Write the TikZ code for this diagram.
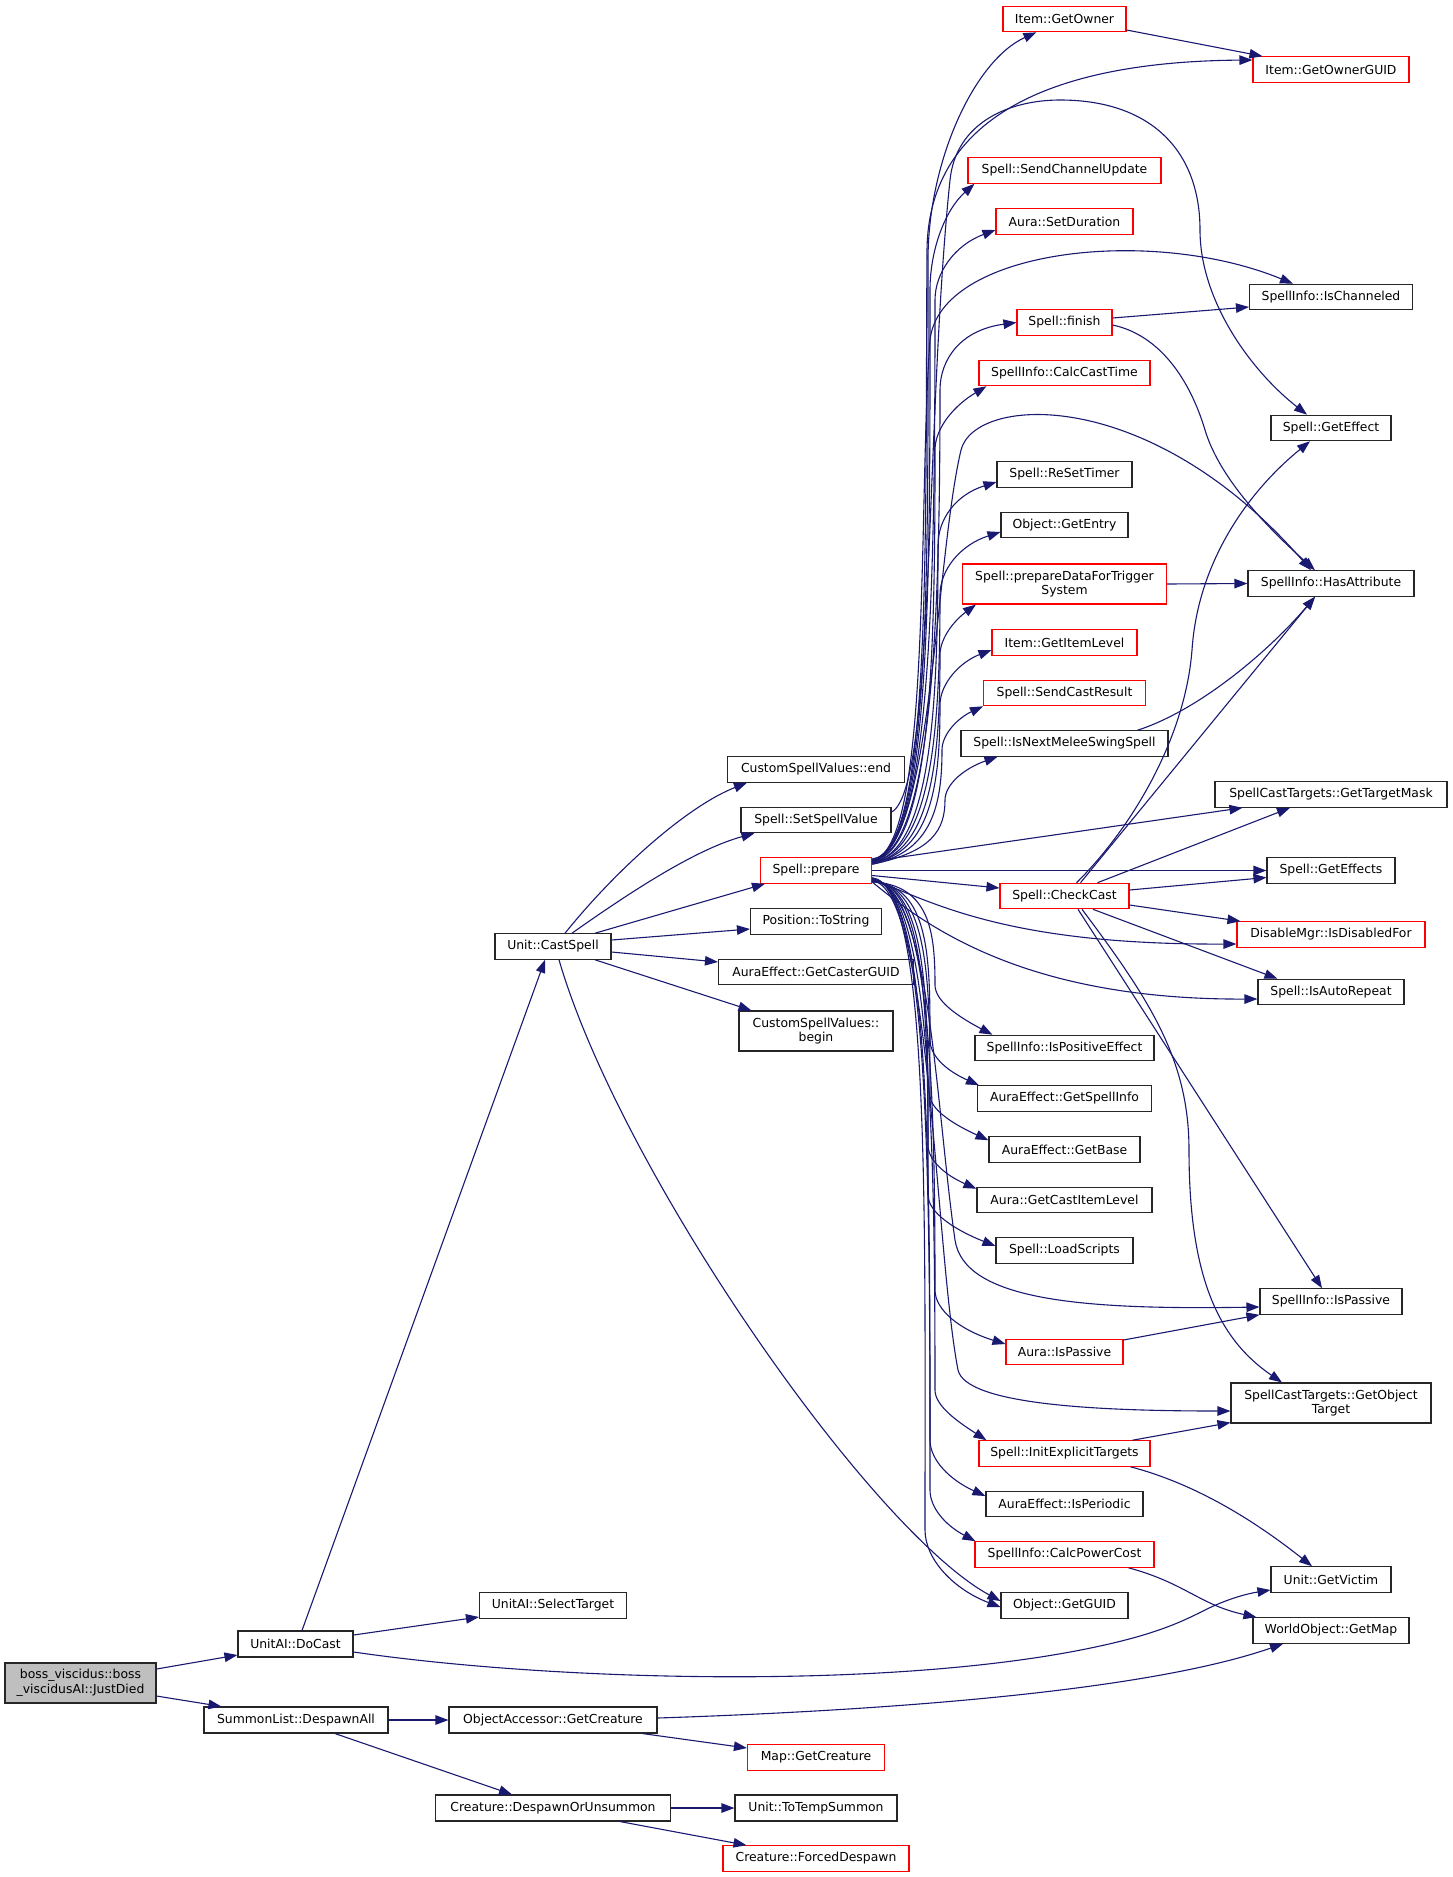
\documentclass[tikz,border=0pt]{standalone}
\usepackage{fontspec}
\setmainfont{DejaVu Sans}
\usetikzlibrary{arrows.meta,calc}
\definecolor{edgec}{HTML}{191970}
\definecolor{redc}{HTML}{FF0000}
\definecolor{bossfill}{HTML}{BFBFBF}
\tikzset{
  nbox/.style={draw=black!85, line width=1.1pt, fill=white, inner sep=0pt, align=center, font=\fontsize{12.4}{14.6}\selectfont},
  rbox/.style={nbox, draw=redc},
  gbox/.style={nbox, fill=bossfill},
  edge/.style={draw=edgec, line width=1.1pt, -{Triangle[length=13pt,width=9.5pt]}, edgec}
}
\newcommand\bx[7]{\node[#1, minimum width=#5pt, minimum height=#6pt] (#2) at (#3,#4) {#7};}
\newcommand\pup[6]{\draw[edge] ($(prepare.north east)+(0,#1)$) .. controls (932,852) and (#2,{(#3+860)/2}) .. (#2,#3) .. controls (#2,{#3-0.5*(#3-#5)}) and (#4,#5) .. #6;}
\newcommand\pdn[6]{\draw[edge] ($(prepare.south east)+(0,#1)$) .. controls (930,885) and (#2,{(#3+880)/2}) .. (#2,#3) .. controls (#2,{#3+0.5*(#5-#3)}) and (#4,#5) .. #6;}
\begin{document}
\begin{tikzpicture}[x=1pt,y=-1pt]
\useasboundingbox (0,0) rectangle (1452,1877);
% rank 0-2
\bx{gbox}{boss}{80.5}{1683}{151}{40}{boss\_viscidus::boss\\\_viscidusAI::JustDied}
\bx{nbox}{docast}{295.5}{1644}{115}{26}{UnitAI::DoCast}
\bx{nbox}{despawnall}{296}{1720}{184}{26}{SummonList::DespawnAll}
\bx{nbox}{castspell}{553}{946.5}{116}{25.5}{Unit::CastSpell}
\bx{nbox}{selecttarget}{553}{1605.5}{147}{25.5}{UnitAI::SelectTarget}
\bx{nbox}{oagetcreature}{553}{1720}{208}{26}{ObjectAccessor::GetCreature}
\bx{nbox}{despawnor}{553}{1808}{235}{26}{Creature::DespawnOrUnsummon}
% rank 3
\bx{nbox}{csvend}{816}{769.5}{177}{25.5}{CustomSpellValues::end}
\bx{nbox}{setspellvalue}{816}{820}{150}{25.5}{Spell::SetSpellValue}
\bx{rbox}{prepare}{816}{870.5}{111}{25.5}{Spell::prepare}
\bx{nbox}{tostring}{816}{921.5}{131}{25.5}{Position::ToString}
\bx{nbox}{castercguid}{816}{972}{195}{25.5}{AuraEffect::GetCasterGUID}
\bx{nbox}{csvbegin}{816}{1031}{154}{40}{CustomSpellValues::\\begin}
\bx{rbox}{mapgetcreature}{816}{1757.5}{137}{25.5}{Map::GetCreature}
\bx{nbox}{totempsummon}{816}{1808}{162}{26}{Unit::ToTempSummon}
\bx{rbox}{forceddespawn}{816}{1858.5}{186}{25.5}{Creature::ForcedDespawn}
% rank 4
\bx{rbox}{getowner}{1064.5}{19}{123}{25.5}{Item::GetOwner}
\bx{rbox}{sendchannel}{1064.5}{170.5}{193}{25.5}{Spell::SendChannelUpdate}
\bx{rbox}{setduration}{1064.5}{221.5}{137}{25.5}{Aura::SetDuration}
\bx{rbox}{finish}{1064.5}{322.5}{95}{25.5}{Spell::finish}
\bx{rbox}{calccasttime}{1064.5}{373}{171}{25.5}{SpellInfo::CalcCastTime}
\bx{nbox}{resettimer}{1064.5}{474.5}{135}{25.5}{Spell::ReSetTimer}
\bx{nbox}{getentry}{1064.5}{525}{127}{25.5}{Object::GetEntry}
\bx{rbox}{prepdata}{1064.5}{584}{204}{40}{Spell::prepareDataForTrigger\\System}
\bx{rbox}{getitemlevel}{1064.5}{642.5}{145}{25.5}{Item::GetItemLevel}
\bx{rbox}{sendcastresult}{1064.5}{693}{162}{25.5}{Spell::SendCastResult}
\bx{nbox}{isnextmelee}{1064.5}{743.5}{207}{25.5}{Spell::IsNextMeleeSwingSpell}
\bx{rbox}{checkcast}{1064.5}{896}{129}{25.5}{Spell::CheckCast}
\bx{nbox}{ispositive}{1064.5}{1048}{179}{25.5}{SpellInfo::IsPositiveEffect}
\bx{nbox}{getspellinfo}{1064.5}{1098.5}{174}{25.5}{AuraEffect::GetSpellInfo}
\bx{nbox}{getbase}{1064.5}{1149.5}{151}{25.5}{AuraEffect::GetBase}
\bx{nbox}{getcastitemlevel}{1064.5}{1200}{175}{25.5}{Aura::GetCastItemLevel}
\bx{nbox}{loadscripts}{1064.5}{1250.5}{137}{25.5}{Spell::LoadScripts}
\bx{rbox}{aurapassive}{1064.5}{1352}{117}{25.5}{Aura::IsPassive}
\bx{rbox}{initexplicit}{1064.5}{1453.5}{171}{25.5}{Spell::InitExplicitTargets}
\bx{nbox}{isperiodic}{1064.5}{1504}{157}{25.5}{AuraEffect::IsPeriodic}
\bx{rbox}{calcpowercost}{1064.5}{1554.5}{179}{25.5}{SpellInfo::CalcPowerCost}
\bx{nbox}{getguid}{1064.5}{1605.5}{127}{25.5}{Object::GetGUID}
% rank 5
\bx{rbox}{getownerguid}{1331}{69.5}{156}{25.5}{Item::GetOwnerGUID}
\bx{nbox}{ischanneled}{1331}{297}{163}{25.5}{SpellInfo::IsChanneled}
\bx{nbox}{geteffect}{1331}{428}{120}{25.5}{Spell::GetEffect}
\bx{nbox}{hasattribute}{1331}{583.5}{166}{25.5}{SpellInfo::HasAttribute}
\bx{nbox}{gettargetmask}{1331}{794.5}{232}{25.5}{SpellCastTargets::GetTargetMask}
\bx{nbox}{geteffects}{1331}{870.5}{128}{25.5}{Spell::GetEffects}
\bx{rbox}{disablemgr}{1331}{934.5}{188}{25.5}{DisableMgr::IsDisabledFor}
\bx{nbox}{isautorepeat}{1331}{992}{146}{25.5}{Spell::IsAutoRepeat}
\bx{nbox}{sipassive}{1331}{1301.5}{142}{25.5}{SpellInfo::IsPassive}
\bx{nbox}{getobjecttarget}{1331}{1403}{200}{40}{SpellCastTargets::GetObject\\Target}
\bx{nbox}{getvictim}{1331}{1579.5}{120}{25.5}{Unit::GetVictim}
\bx{nbox}{getmap}{1331}{1630.5}{156}{25.5}{WorldObject::GetMap}

% ---- edges: left part
\draw[edge] ($(boss.east)+(0,-14)$) -- ($(docast.west)+(0,11)$);
\draw[edge] ($(boss.east)+(0,13)$) -- ($(despawnall.north west)+(18,0)$);
\draw[edge] ($(docast.north)+(6.5,0)$) -- ($(castspell.south)+(-8,0)$);
\draw[edge] ($(docast.east)+(0,-9)$) -- ($(selecttarget.west)+(0,11.5)$);
\draw[edge] ($(docast.east)+(0,8)$) .. controls (560,1682) and (900,1690) .. (1100,1646) .. controls (1160,1633) and (1185,1620) .. (1205,1610) .. controls (1225,1600) and (1245,1594) .. ($(getvictim.west)+(0,10.5)$);
\draw[edge] (despawnall.east) -- (oagetcreature.west);
\draw[edge] ($(despawnall.south)+(39,0)$) -- ($(despawnor.north)+(-41,0)$);
\draw[edge] ($(oagetcreature.south east)+(-15,0)$) -- ($(mapgetcreature.west)+(0,-9.5)$);
\draw[edge] ($(oagetcreature.east)+(0,-2)$) .. controls (900,1710) and (1150,1690) .. ($(getmap.south)+(-48,0)$);
\draw[edge] (despawnor.east) -- (totempsummon.west);
\draw[edge] ($(despawnor.south east)+(-51,0)$) -- ($(forceddespawn.north west)+(24,0)$);

% ---- Unit::CastSpell
\draw[edge] ($(castspell.north)+(12,0)$) .. controls (620,865) and (690,805) .. ($(csvend.south west)+(20,0)$);
\draw[edge] ($(castspell.north)+(19,0)$) .. controls (640,885) and (700,848) .. ($(setspellvalue.south west)+(14,0)$);
\draw[edge] ($(castspell.north)+(42,0)$) -- ($(prepare.south west)+(5,0)$);
\draw[edge] ($(castspell.east)+(0,-6.5)$) -- ($(tostring.west)+(0,7.5)$);
\draw[edge] ($(castspell.east)+(0,5.5)$) -- ($(castercguid.west)+(0,-10)$);
\draw[edge] ($(castspell.south)+(42,0)$) -- ($(csvbegin.north west)+(13,0)$);
\draw[edge] ($(castspell.south)+(6,0)$) .. controls (620,1170) and (870,1530) .. ($(getguid.west)+(0,-4.5)$);

% ---- Spell::SetSpellValue
\draw[edge] ($(setspellvalue.east)+(0,-8)$) .. controls (935,790) and (925,420) .. (950,180) .. controls (956,122) and (1010,100) .. (1060,100) .. controls (1150,100) and (1200,150) .. (1200,230) .. controls (1200,300) and (1250,370) .. ($(geteffect.north)+(-24,0)$);

% ---- Spell::prepare up to rank 4
\pup{2}{928}{260}{975}{60}{($(getowner.south west)+(34,0)$)}
\pup{3}{930}{290}{945}{210}{($(sendchannel.south west)+(7,0)$)}
\pup{3}{935}{300}{955}{245}{($(setduration.west)+(0,8.5)$)}
\pup{4}{940}{390}{960}{330}{(finish.west)}
\pup{4}{935}{450}{955}{405}{($(calccasttime.south west)+(8,0)$)}
\pup{5}{938}{545}{955}{495}{($(resettimer.west)+(0,7.5)$)}
\pup{5}{940}{595}{960}{545}{($(getentry.west)+(0,7)$)}
\pup{6}{940}{655}{955}{620}{($(prepdata.south west)+(14,0)$)}
\pup{6}{940}{705}{960}{662}{($(getitemlevel.west)+(0,7.5)$)}
\pup{7}{942}{750}{958}{718}{($(sendcastresult.south west)+(0,0)$)}
\pup{7}{945}{800}{965}{768}{($(isnextmelee.south west)+(37,0)$)}
% ---- Spell::prepare up to rank 5
\draw[edge] ($(prepare.north east)+(0,2)$) .. controls (932,852) and (925,550) .. (927,250) .. controls (928,150) and (1000,62) .. ($(getownerguid.west)+(0,-9.5)$);
\draw[edge] ($(prepare.north east)+(0,3)$) .. controls (932,852) and (918,500) .. (930,340) .. controls (940,250) and (1150,225) .. ($(ischanneled.north)+(-38,0)$);
\draw[edge] ($(prepare.north east)+(0,4)$) .. controls (932,852) and (935,560) .. (961,450) .. controls (975,395) and (1150,385) .. ($(hasattribute.north)+(-20,0)$);
\draw[edge] ($(prepare.north east)+(0,4)$) -- ($(gettargetmask.south west)+(28,0)$);
\draw[edge] (prepare.east) -- (geteffects.west);
\draw[edge] ($(prepare.east)+(0,5)$) -- ($(checkcast.west)+(0,-8)$);
\draw[edge] ($(prepare.east)+(0,9)$) .. controls (930,900) and (1000,945) .. ($(disablemgr.west)+(0,9.5)$);
\draw[edge] ($(prepare.south east)+(0,-2)$) .. controls (930,930) and (1030,1000) .. ($(isautorepeat.west)+(0,7)$);
% ---- Spell::prepare down to rank 4
\pdn{-2}{935}{985}{955}{1015}{($(ispositive.north west)+(18,0)$)}
\pdn{-2}{930}{1040}{945}{1070}{($(getspellinfo.north west)+(2,0)$)}
\pdn{-3}{930}{1095}{955}{1125}{($(getbase.north west)+(0,4)$)}
\pdn{-3}{928}{1145}{945}{1175}{($(getcastitemlevel.north west)+(0,2)$)}
\pdn{-4}{928}{1195}{955}{1230}{($(loadscripts.west)+(0,-4.5)$)}
\pdn{-4}{935}{1290}{960}{1330}{($(aurapassive.west)+(0,-8)$)}
\pdn{-5}{935}{1390}{955}{1420}{($(initexplicit.north west)+(8,0)$)}
\pdn{-5}{930}{1440}{950}{1480}{($(isperiodic.west)+(0,-8)$)}
\pdn{-6}{930}{1490}{945}{1525}{($(calcpowercost.north west)+(1,0)$)}
\pdn{-6}{925}{1530}{955}{1590}{($(getguid.west)+(0,1.5)$)}
% ---- Spell::prepare down to rank 5
\draw[edge] ($(prepare.south east)+(0,-3)$) .. controls (930,885) and (935,1100) .. (955,1240) .. controls (964,1300) and (1080,1310) .. ($(sipassive.west)+(0,5.5)$);
\draw[edge] ($(prepare.south east)+(0,-3)$) .. controls (930,885) and (935,1250) .. (958,1370) .. controls (966,1405) and (1100,1411) .. ($(getobjecttarget.west)+(0,8)$);

% ---- Spell::CheckCast
\draw[edge] ($(checkcast.north)+(12,0)$) .. controls (1130,830) and (1185,740) .. (1192,650) .. controls (1198,560) and (1250,490) .. ($(geteffect.south)+(-21,0)$);
\draw[edge] ($(checkcast.north)+(16,0)$) -- ($(hasattribute.south)+(-16,0)$);
\draw[edge] ($(checkcast.north)+(33,0)$) -- ($(gettargetmask.south)+(-41,0)$);
\draw[edge] ($(checkcast.east)+(0,-6)$) -- ($(geteffects.west)+(0,7)$);
\draw[edge] ($(checkcast.east)+(0,9)$) -- ($(disablemgr.north west)+(4,0)$);
\draw[edge] ($(checkcast.south)+(28.5,0)$) -- ($(isautorepeat.north west)+(20,0)$);
\draw[edge] ($(checkcast.south)+(13.5,0)$) -- ($(sipassive.north)+(-9,0)$);
\draw[edge] ($(checkcast.south)+(17.5,0)$) .. controls (1150,1000) and (1189,1060) .. (1189,1150) .. controls (1189,1280) and (1220,1340) .. ($(getobjecttarget.north)+(-49,0)$);

% ---- other rank 4 -> rank 5
\draw[edge] ($(getowner.east)+(0,11)$) -- ($(getownerguid.north west)+(10,0)$);
\draw[edge] ($(finish.east)+(0,-4.5)$) -- ($(ischanneled.west)+(0,10)$);
\draw[edge] ($(finish.east)+(0,2.5)$) .. controls (1160,335) and (1190,380) .. (1205,430) .. controls (1220,480) and (1270,530) .. ($(hasattribute.north)+(-16,0)$);
\draw[edge] (prepdata.east) -- (hasattribute.west);
\draw[edge] ($(isnextmelee.north east)+(-31,0)$) .. controls (1200,710) and (1270,650) .. ($(hasattribute.south)+(-16,0)$);
\draw[edge] ($(aurapassive.east)+(0,-12)$) -- (sipassive.south west);
\draw[edge] ($(initexplicit.north east)+(-18,0)$) -- ($(getobjecttarget.south west)+(0,-1)$);
\draw[edge] ($(initexplicit.south east)+(-20,0)$) .. controls (1200,1485) and (1260,1525) .. ($(getvictim.north)+(-19,0)$);
\draw[edge] ($(calcpowercost.south east)+(-26,0)$) .. controls (1185,1583) and (1200,1605) .. ($(getmap.north west)+(4,0)$);
\end{tikzpicture}
\end{document}
